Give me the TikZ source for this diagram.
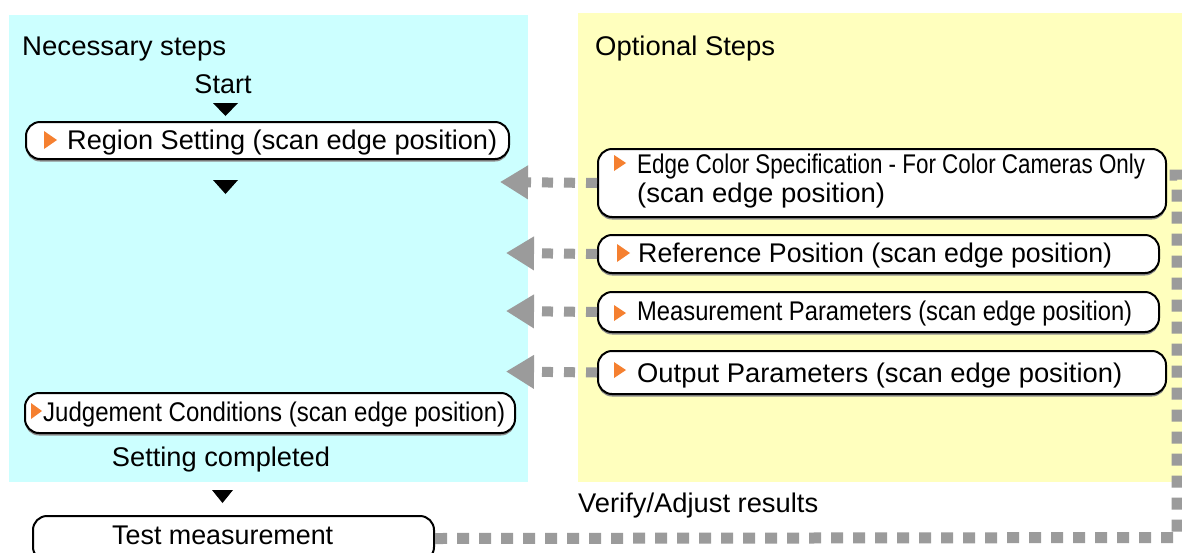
\documentclass[tikz,border=0pt]{standalone}
\usepackage{fontspec}
\setmainfont{Liberation Sans}
\usetikzlibrary{arrows.meta,shadows}
\definecolor{cyanbg}{RGB}{204,255,255}
\definecolor{yellowbg}{RGB}{255,255,190}
\definecolor{dashgray}{RGB}{155,155,155}
\definecolor{markorange}{RGB}{245,128,48}
\newcommand{\fitw}[2]{\resizebox{#1}{\height}{#2}}
\begin{document}
\begin{tikzpicture}[x=1pt,y=-1pt,
  stepbox/.style={draw=black, line width=2pt, fill=white, rounded corners=14pt,
    inner sep=0pt, anchor=north west,
    drop shadow={shadow xshift=0pt,shadow yshift=-2.5pt,fill=black!45,opacity=1}},
  lbl/.style={inner sep=0pt, anchor=base west, font=\fontsize{27pt}{30pt}\selectfont},
  clbl/.style={inner sep=0pt, anchor=base, font=\fontsize{27pt}{30pt}\selectfont},
  orangetip/.style={fill=markorange},
  flowtip/.style={fill=black},
  garrow/.style={draw=dashgray, line width=10pt, dash pattern=on 11pt off 11pt,
    -{Triangle[length=28pt,width=32pt]}},
  gline/.style={draw=dashgray, line width=11pt, dash pattern=on 12pt off 10pt}]
\useasboundingbox (0,0) rectangle (1182,552);
\clip (0,0) rectangle (1182,552);
\fill[white] (0,0) rectangle (1182,552);
% panels
\fill[cyanbg] (9,15) rectangle (528,482);
\fill[yellowbg] (578,13) rectangle (1182,482);
% headings
\node[lbl] (nec) at (22,55) {\fitw{204pt}{Necessary steps}};
\node[lbl] (opt) at (595,55) {\fitw{180pt}{Optional Steps}};
\node[clbl] (start) at (223,93) {Start};
% flow triangles
\fill[flowtip] (213,103) -- (238,103) -- (225.5,116) -- cycle;
\fill[flowtip] (213,180) -- (238,180) -- (225.5,194) -- cycle;
\fill[flowtip] (212,490) -- (233,490) -- (222.5,503) -- cycle;
% necessary boxes
\node[stepbox, minimum width=483pt, minimum height=37pt] (region) at (25,121) {};
\fill[orangetip] (44,131) -- (57,140) -- (44,149) -- cycle;
\node[lbl] (regiont) at (67,149) {\fitw{430pt}{Region Setting (scan edge position)}};

\node[stepbox, minimum width=490pt, minimum height=40pt] (judge) at (24,392) {};
\fill[orangetip] (31,403) -- (42,411) -- (31,419) -- cycle;
\node[lbl] (judget) at (43,421) {\fitw{462pt}{Judgement Conditions (scan edge position)}};

\node[clbl] (done) at (221,466) {\fitw{218pt}{Setting completed}};

\node[stepbox, minimum width=401pt, minimum height=45pt] (test) at (32,515) {};
\node[lbl] (testt) at (112,544) {\fitw{221pt}{Test measurement}};

\node[lbl] (verify) at (578,512) {\fitw{240pt}{Verify/Adjust results}};

% optional boxes
\node[stepbox, minimum width=568pt, minimum height=68pt] (edge) at (597,148) {};
\fill[orangetip] (614,155) -- (626,163) -- (614,171) -- cycle;
\node[lbl] (edget1) at (637,173) {\fitw{508pt}{Edge Color Specification - For Color Cameras Only}};
\node[lbl] (edget2) at (637,202) {\fitw{248pt}{(scan edge position)}};

\node[stepbox, minimum width=561pt, minimum height=38pt] (refpos) at (597,234) {};
\fill[orangetip] (617,244) -- (630,253) -- (617,262) -- cycle;
\node[lbl] (refpost) at (638,262) {\fitw{474pt}{Reference Position (scan edge position)}};

\node[stepbox, minimum width=561pt, minimum height=40pt] (meas) at (597,291) {};
\fill[orangetip] (614,305) -- (626,313) -- (614,321) -- cycle;
\node[lbl] (meast) at (637,320) {\fitw{495pt}{Measurement Parameters (scan edge position)}};

\node[stepbox, minimum width=568pt, minimum height=43pt] (outp) at (597,350) {};
\fill[orangetip] (614,362) -- (626,370) -- (614,378) -- cycle;
\node[lbl] (outpt) at (637,382) {\fitw{485pt}{Output Parameters (scan edge position)}};

% gray arrows to the left
\coordinate (tipE) at (500,182);
\coordinate (tipR) at (506,253);
\coordinate (tipM) at (506,311);
\coordinate (tipO) at (506,371.5);
\draw[garrow] (edge.west) -- (tipE);
\draw[garrow] (refpos.west) -- (tipR);
\draw[garrow] (meas.west) -- (tipM);
\draw[garrow] (outp.west) -- (tipO);

% feedback dashed line
\coordinate (c1) at (1177,537.5);
\coordinate (c2) at (1177,175);
\draw[gline] (test.east) -- (c1) -- (c2) -- (edge.east |- c2);
\end{tikzpicture}
\end{document}
